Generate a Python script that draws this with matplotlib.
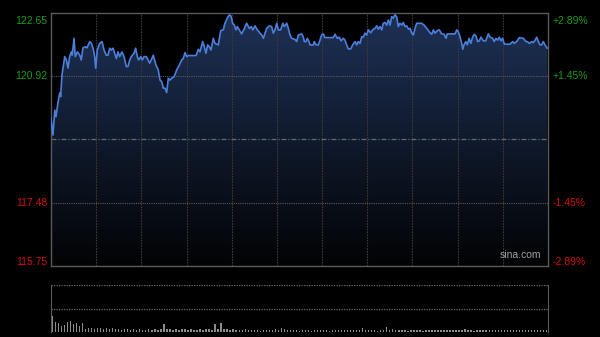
from matplotlib import pyplot as plt
from matplotlib.colors import LinearSegmentedColormap
import numpy as np

# minutes from the open (HK session, 330 min) and price
minutes = [0, 1.3, 2.5, 3.3, 4.6, 5.8, 6.4, 7.3, 9.1, 10.2, 11.3, 12.4, 13.5, 14.1, 15.3, 16.1,
           17.5, 19.1, 20.1, 21.2, 22.8, 23.9, 25.7, 26.8, 27.9, 29.0, 29.7, 30.7, 32.3, 33.9,
           35.2, 36.7, 37.8, 39.0, 40.0, 41.2, 42.3, 43.4, 44.5, 45.6, 47.1, 48.5, 50.0, 51.1,
           52.3, 53.3, 55.1, 56.2, 57.3, 58.2, 59.6, 60.6, 61.8, 63.3, 64.4, 65.5, 66.6, 67.9,
           69.7, 71.2, 72.4, 73.5, 74.6, 75.7, 76.8, 77.9, 79.0, 80.1, 81.7, 83.5, 85.2, 86.8,
           87.8, 89.0, 90.1, 91.2, 93.4, 96.3, 97.8, 98.9, 100.7, 101.8, 102.9, 104.0, 105.1,
           106.2, 107.8, 108.9, 111.1, 112.7, 114.4, 115.5, 117.1, 118.4, 119.5, 120.6, 121.7,
           122.8, 123.7, 125.0, 126.6, 128.2, 129.9, 131.7, 133.0, 134.0, 135.5, 137.0, 138.8,
           139.9, 141.0, 142.1, 143.2, 145.0, 146.5, 147.6, 148.7, 149.9, 150.9, 152.5, 153.9,
           154.9, 156.5, 157.6, 158.7, 159.8, 162.0, 163.1, 164.2, 166.5, 167.5, 168.2, 169.3,
           170.2, 171.3, 172.0, 174.2, 174.8, 176.0, 177.5, 178.6, 179.7, 180.8, 181.9, 184.1,
           187.4, 188.6, 190.1, 191.4, 192.6, 194.1, 195.2, 196.3, 197.4, 199.0, 200.3, 201.9,
           203.0, 204.0, 205.2, 206.3, 207.4, 208.5, 209.6, 210.7, 212.3, 213.6, 215.1, 216.3,
           217.3, 218.5, 219.6, 220.6, 221.8, 222.9, 224.0, 225.1, 226.2, 227.3, 228.4, 229.5,
           230.6, 231.7, 232.9, 233.9, 235.1, 236.2, 237.3, 238.4, 239.5, 240.6, 241.7, 242.8,
           246.1, 247.7, 249.5, 251.7, 252.8, 253.9, 255.0, 256.5, 257.8, 259.4, 261.0, 262.3,
           263.1, 268.3, 269.4, 270.4, 271.6, 272.7, 273.4, 274.2, 275.4, 276.4, 277.6, 278.7,
           280.0, 281.1, 282.2, 283.3, 284.4, 285.5, 287.1, 288.6, 290.4, 291.5, 293.3, 294.2,
           295.5, 296.6, 297.7, 298.8, 299.9, 301.0, 304.8, 306.6, 307.6, 309.2, 311.0, 313.6,
           315.4, 316.3, 317.6, 319.2, 320.2, 321.4, 322.5, 323.6, 324.7, 325.8, 326.9, 328.0,
           329.5]
price = [119.78, 119.32, 120.00, 119.82, 120.20, 120.47, 120.37, 120.96, 121.46, 121.37, 121.15,
         121.46, 121.59, 121.50, 121.96, 121.46, 121.59, 121.50, 121.37, 121.70, 121.73, 121.70,
         121.87, 121.82, 121.70, 121.46, 121.14, 121.64, 121.82, 121.87, 121.64, 121.50, 121.50,
         121.69, 121.64, 121.69, 121.55, 121.41, 121.59, 121.46, 121.59, 121.46, 121.19, 121.19,
         121.37, 121.46, 121.55, 121.69, 121.46, 121.37, 121.46, 121.37, 121.46, 121.46, 121.37,
         121.28, 121.37, 121.50, 121.23, 121.10, 120.82, 120.78, 120.60, 120.60, 120.48, 120.87,
         120.82, 120.87, 120.91, 121.10, 121.23, 121.37, 121.41, 121.57, 121.46, 121.49, 121.49,
         121.49, 121.66, 121.59, 121.87, 121.73, 121.55, 121.78, 121.73, 121.64, 121.96, 121.82,
         121.78, 122.17, 122.19, 122.37, 122.51, 122.60, 122.57, 122.37, 122.32, 122.19, 122.28,
         122.19, 122.08, 122.21, 122.37, 122.23, 122.28, 122.19, 122.30, 122.19, 122.10, 122.05,
         121.96, 122.10, 122.23, 122.30, 122.28, 122.10, 122.19, 122.37, 122.19, 122.19, 122.37,
         122.28, 122.37, 122.23, 122.05, 121.96, 121.93, 121.87, 122.05, 122.08, 122.00, 121.87,
         121.87, 121.96, 121.87, 121.78, 121.78, 121.87, 121.78, 121.78, 121.91, 122.05, 122.08,
         121.98, 121.98, 121.98, 122.07, 121.96, 121.99, 121.89, 121.96, 121.91, 121.78, 121.67,
         121.67, 121.78, 121.87, 121.78, 121.87, 121.82, 122.00, 122.00, 122.10, 122.05, 122.19,
         122.11, 122.19, 122.23, 122.30, 122.21, 122.28, 122.19, 122.37, 122.39, 122.32, 122.46,
         122.32, 122.55, 122.51, 122.60, 122.55, 122.28, 122.37, 122.32, 122.39, 122.28, 122.30,
         122.21, 122.23, 122.10, 122.05, 122.23, 122.37, 122.37, 122.32, 122.23, 122.11, 122.07,
         122.19, 122.10, 122.17, 122.19, 122.08, 122.07, 121.96, 122.08, 122.08, 122.19, 122.14,
         122.00, 121.82, 121.66, 121.78, 121.87, 121.78, 121.96, 121.82, 122.00, 122.07, 122.02,
         121.87, 121.89, 121.99, 121.89, 121.89, 122.08, 121.99, 121.96, 121.87, 121.96, 121.91,
         121.99, 121.89, 121.96, 121.80, 121.80, 121.87, 121.82, 121.87, 121.98, 121.96, 121.87,
         121.87, 121.82, 121.87, 121.84, 121.91, 121.99, 121.87, 121.78, 121.78, 121.87, 121.78,
         121.69]

# volume, one bar every 2 minutes (relative units)
volume = [16, 10, 9, 6, 7, 10, 11, 8, 9, 6, 9, 3, 4, 4, 3, 4, 4, 3, 4, 3,
          4, 3, 3, 2, 3, 3, 2, 3, 2, 3, 2, 2, 3, 2, 3, 2, 3, 8, 3, 3,
          2, 3, 2, 3, 3, 2, 3, 2, 2, 3, 2, 3, 3, 2, 8, 3, 9, 3, 3, 2,
          3, 2, 2, 2, 3, 2, 2, 2, 2, 1, 2, 2, 2, 2, 3, 2, 4, 3, 2, 2,
          2, 2, 1, 2, 2, 2, 1, 2, 2, 2, 2, 2, 1, 2, 2, 2, 2, 2, 2, 2,
          2, 2, 2, 4, 2, 2, 2, 2, 1, 2, 2, 5, 2, 3, 2, 2, 2, 2, 1, 2,
          2, 2, 2, 1, 2, 2, 2, 2, 2, 2, 2, 2, 2, 2, 2, 2, 2, 3, 2, 2,
          1, 2, 2, 2, 2, 2, 2, 2, 2, 2, 2, 2, 2, 2, 2, 2, 2, 2, 2, 2,
          2, 2, 2, 2, 2]

prev_close = 119.20
y_ticks = [115.75, 117.48, 120.92, 122.65]
y_labels = ['115.75', '117.48', '120.92', '122.65']
pct_labels = ['-2.89%', '-1.45%', '+1.45%', '+2.89%']
tick_colors = ['#d01010', '#d01010', '#1c9c1c', '#1c9c1c']

fig = plt.figure(figsize=(6, 3.37), dpi=100, facecolor='black')
ax = fig.add_axes([51/600, 1 - 266/337, 497/600, 253/337], facecolor='black')
ax.set_xlim(0, 330)
ax.set_ylim(115.75, 122.65)

# gradient fill under the line
cmap = LinearSegmentedColormap.from_list('fill', ['#020304', '#1e3156'])
grad = np.linspace(0, 1, 256).reshape(-1, 1)
img = ax.imshow(grad, extent=[0, 330, 115.75, 122.65], origin='lower', aspect='auto',
                cmap=cmap, zorder=1)
poly = ax.fill_between(minutes, price, 115.75, color='none', lw=0)
img.set_clip_path(poly.get_paths()[0], transform=ax.transData)
ax.plot(minutes, price, color='#4b7fdc', lw=1.2, zorder=3)

for m in range(30, 330, 30):
    ax.axvline(m, color='#3a3a3a', lw=0.8, ls=(0, (1.5, 1)), zorder=2)
for v in [117.48, 120.92]:
    ax.axhline(v, color='#5a5a5a', lw=0.8, ls=(0, (1, 1)), zorder=2)
ax.axhline(prev_close, color='#6a6a6a', lw=0.9, ls=(0, (4, 1.5, 1, 1.5)), zorder=2)

for s in ax.spines.values():
    s.set_color('#5a5a5a')
    s.set_linewidth(1)
ax.set_xticks([])
ax.set_yticks([])

# y labels
offs = [0.105, 0, 0, -0.21]
for v, lab, pl, c, o in zip(y_ticks, y_labels, pct_labels, tick_colors, offs):
    ax.text(-0.008, v + o, lab, transform=ax.get_yaxis_transform(), ha='right', va='center',
            color=c, fontsize=7.5, family='Liberation Sans')
    ax.text(1.01, v + o, pl, transform=ax.get_yaxis_transform(), ha='left', va='center',
            color=c, fontsize=7.5, family='Liberation Sans')

ax.text(0.987, 0.022, 'sina.com', transform=ax.transAxes, ha='right', va='bottom',
        color='#a0a0a0', fontsize=7.5, family='Liberation Sans')

# volume panel
vax = fig.add_axes([51/600, 1 - 332/337, 497/600, 47/337], facecolor='black')
vx = np.arange(len(volume)) * 2 + 0.5
vax.bar(vx, volume, width=0.9, color='#8c8c8c', align='edge')
vax.set_xlim(0, 330)
vax.set_ylim(0, 47)
vax.axhline(47, color='#6a6a6a', lw=0.9, ls=(0, (1, 1)))
vax.axhline(23.5, color='#6a6a6a', lw=0.9, ls=(0, (1, 1)))
vax.spines['top'].set_visible(False)
vax.spines['bottom'].set_visible(False)
vax.spines['left'].set_color('#5a5a5a')
vax.spines['right'].set_color('#5a5a5a')
vax.set_xticks([])
vax.set_yticks([])

plt.savefig('out.png', dpi=100, facecolor='black')
